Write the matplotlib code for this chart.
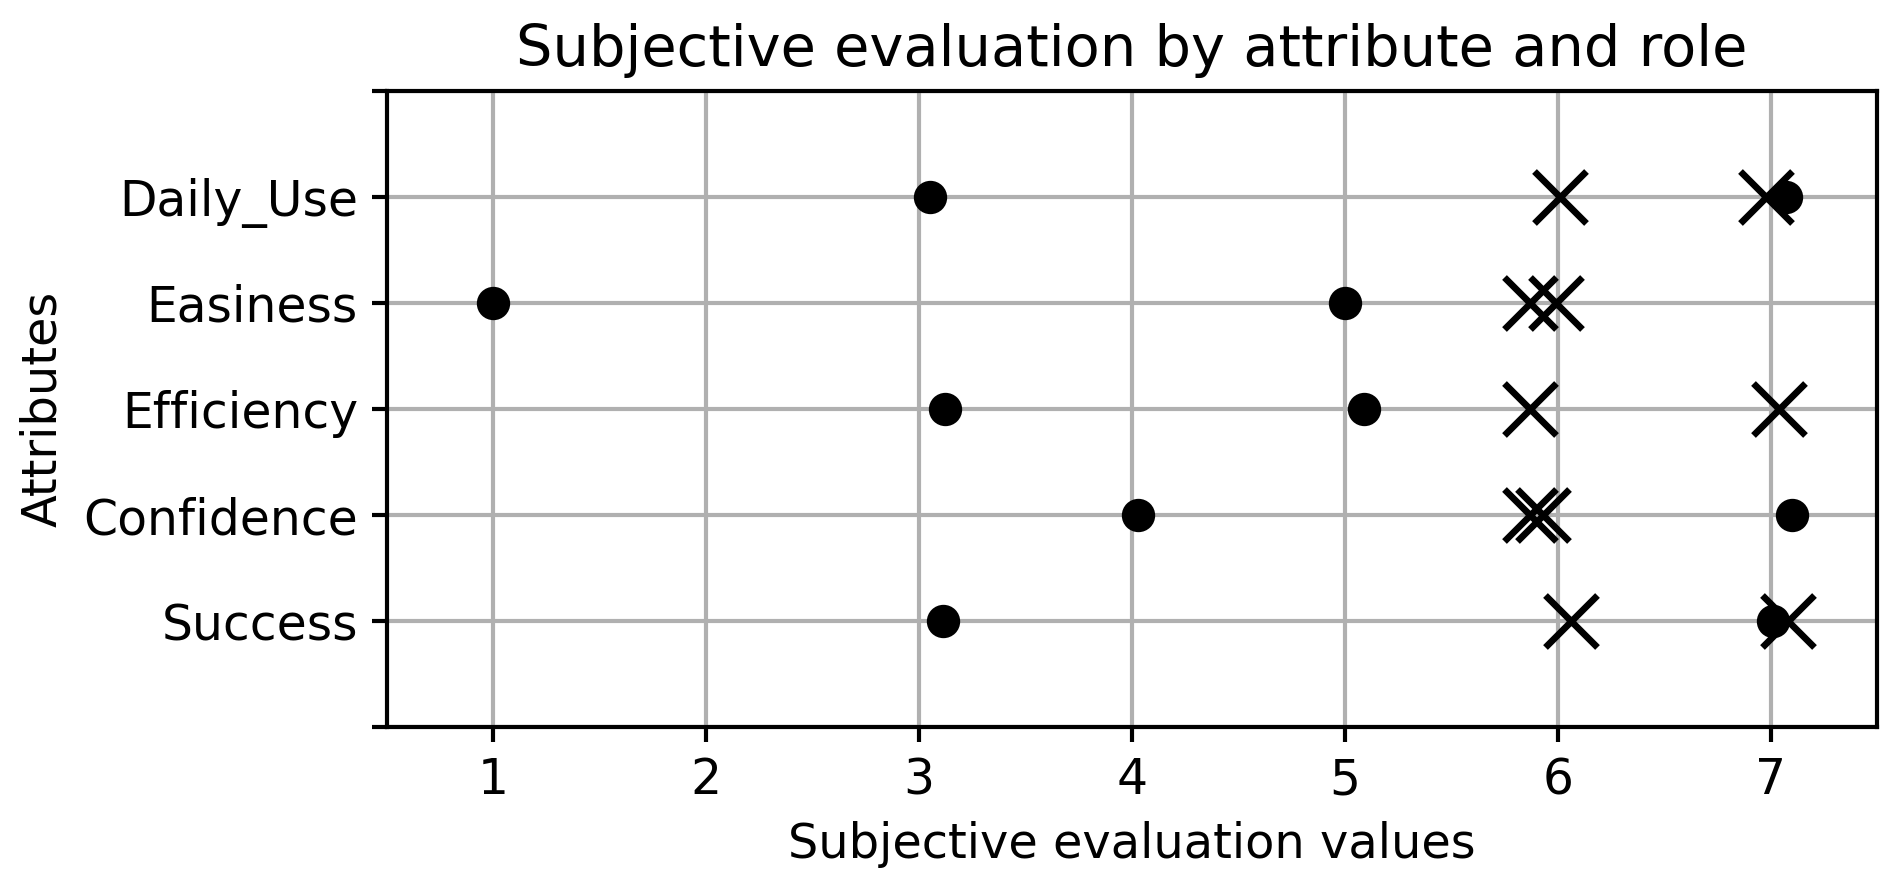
import matplotlib
matplotlib.use("Agg")
import matplotlib.pyplot as plt

attributes = ["Success", "Confidence", "Efficiency", "Easiness", "Daily_Use"]

# two participants per role, values read per attribute (bottom to top)
role1_a = [3.11, 4.03, 3.12, 1.00, 3.05]
role1_b = [7.01, 7.10, 5.09, 5.00, 7.07]
role2_a = [6.06, 5.87, 5.87, 5.87, 6.01]
role2_b = [7.08, 5.93, 7.04, 5.99, 6.98]

ypos = list(range(1, len(attributes) + 1))

plt.rcParams["axes.linewidth"] = 1.0
plt.rcParams["grid.linewidth"] = 1.0
plt.rcParams["xtick.major.width"] = 1.0
plt.rcParams["ytick.major.width"] = 1.0

fig = plt.figure(figsize=(1901 / 300, 885 / 300), dpi=300)
ax = fig.add_subplot(111)
fig.subplots_adjust(left=0.2036, right=0.9874, top=0.8972, bottom=0.1785)

ax.grid(True, zorder=0)
ax.set_axisbelow(True)

for vals in (role1_a, role1_b):
    ax.plot(vals, ypos, "o", color="black", markersize=7, linestyle="none")
for vals in (role2_a, role2_b):
    ax.plot(vals, ypos, "x", color="black", markersize=12.5,
            markeredgewidth=1.6, linestyle="none")

ax.set_xlim(0.5, 7.5)
ax.set_xticks([1, 2, 3, 4, 5, 6, 7])
ax.set_ylim(0, len(attributes) + 1)
ax.set_yticks(range(0, len(attributes) + 2))
ax.set_yticklabels([""] + attributes + [""])
ax.tick_params(labelsize=11.7)

ax.set_title("Subjective evaluation by attribute and role", fontsize=13.8)
ax.set_xlabel("Subjective evaluation values", fontsize=11.5)
ax.set_ylabel("Attributes", fontsize=11.5)

fig.savefig("out.png", dpi=300)
